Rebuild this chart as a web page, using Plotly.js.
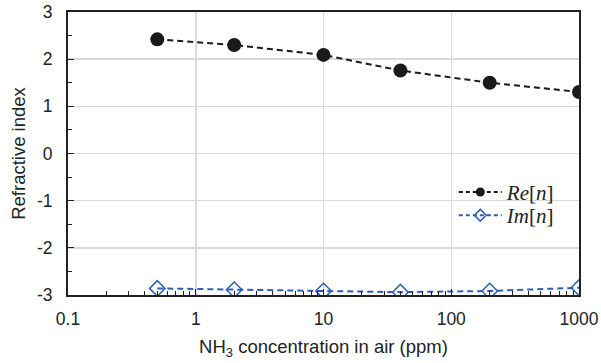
<!DOCTYPE html>
<html>
<head>
<meta charset="utf-8">
<script src="https://cdn.plot.ly/plotly-3.0.1.min.js"></script>
<style>html,body{margin:0;padding:0;background:#fff}#chart{width:601px;height:363px}</style>
</head>
<body>
<div id="chart"></div>
<script>
const concentration = [0.5, 2, 10, 40, 200, 1000];
const reN = [2.42, 2.30, 2.09, 1.76, 1.50, 1.305];
const imN = [-2.86, -2.89, -2.915, -2.94, -2.915, -2.845];
const xTickVals = [0.1, 1, 10, 100, 1000];
const xTickText = ['0.1', '1', '10', '100', '1000'];
const yTickVals = [-3, -2, -1, 0, 1, 2, 3];
const yTickText = ['-3', '-2', '-1', '0', '1', '2', '3'];
const seriesNames = ['<i>Re</i>[<i>n</i>]', '<i>Im</i>[<i>n</i>]'];

const black = '#1a1a1a', blue = '#2e5fb5';

const traces = [
  {
    x: concentration, y: reN, name: seriesNames[0], showlegend: false,
    mode: 'lines+markers', type: 'scatter',
    line: {color: black, width: 2, dash: '6px,4px'},
    marker: {symbol: 'circle', size: 14, color: black}
  },
  {
    x: concentration, y: imN, name: seriesNames[1], showlegend: false,
    mode: 'lines+markers', type: 'scatter',
    line: {color: blue, width: 2, dash: '6px,4px'},
    marker: {symbol: 'diamond-open', size: 12, color: blue, line: {width: 1.5, color: blue}}
  },
  // legend entries (smaller markers, as in the reference legend)
  {
    x: [null], y: [null], name: seriesNames[0], legend: 'legend',
    mode: 'lines+markers', type: 'scatter',
    line: {color: black, width: 2, dash: '4px,3px'},
    marker: {symbol: 'circle', size: 9, color: black}
  },
  {
    x: [null], y: [null], name: seriesNames[1], legend: 'legend2',
    mode: 'lines+markers', type: 'scatter',
    line: {color: blue, width: 2, dash: '4px,3px'},
    marker: {symbol: 'diamond-open', size: 9, color: blue, line: {width: 1.5, color: blue}}
  }
];

const legendFont = {family: 'Liberation Serif, Times New Roman, serif', size: 21, color: '#222'};

const layout = {
  width: 601, height: 363,
  margin: {l: 68, r: 22, t: 12, b: 68},
  paper_bgcolor: '#fff', plot_bgcolor: '#fff',
  font: {family: 'Liberation Sans, Arial, sans-serif', size: 17.5, color: '#222'},
  showlegend: true,
  legend: {
    x: 0.755, y: 0.435, xanchor: 'left', yanchor: 'top',
    bgcolor: 'rgba(0,0,0,0)', font: legendFont, itemwidth: 43
  },
  legend2: {
    x: 0.755, y: 0.353, xanchor: 'left', yanchor: 'top',
    bgcolor: 'rgba(0,0,0,0)', font: legendFont, itemwidth: 43
  },
  xaxis: {
    type: 'log', range: [-1, 3],
    tickvals: xTickVals, ticktext: xTickText,
    ticks: 'inside', ticklen: 6, tickcolor: '#222', tickwidth: 1,
    ticklabelstandoff: 7,
    minor: {ticks: 'inside', ticklen: 4, tickcolor: '#222', dtick: 'D1', showgrid: false},
    showgrid: true, gridcolor: '#d9d9d9', gridwidth: 1.5,
    showline: true, linecolor: '#222', linewidth: 2, mirror: true,
    zeroline: false,
    tickfont: {size: 17.5},
    title: {text: 'NH<sub>3</sub> concentration in air (ppm)', font: {size: 18.5}, standoff: 12}
  },
  yaxis: {
    range: [-3, 3],
    tickvals: yTickVals, ticktext: yTickText,
    ticks: 'inside', ticklen: 6, tickcolor: '#222', tickwidth: 1,
    ticklabelstandoff: 10,
    minor: {ticks: 'inside', ticklen: 4, tickcolor: '#222', dtick: 0.5, showgrid: false},
    showgrid: true, gridcolor: '#d9d9d9', gridwidth: 1.5,
    showline: true, linecolor: '#222', linewidth: 2, mirror: true,
    zeroline: false,
    tickfont: {size: 17.5},
    title: {text: 'Refractive index', font: {size: 18.5}, standoff: 6}
  }
};

Plotly.newPlot('chart', traces, layout, {displayModeBar: false, staticPlot: true});
</script>
</body>
</html>
